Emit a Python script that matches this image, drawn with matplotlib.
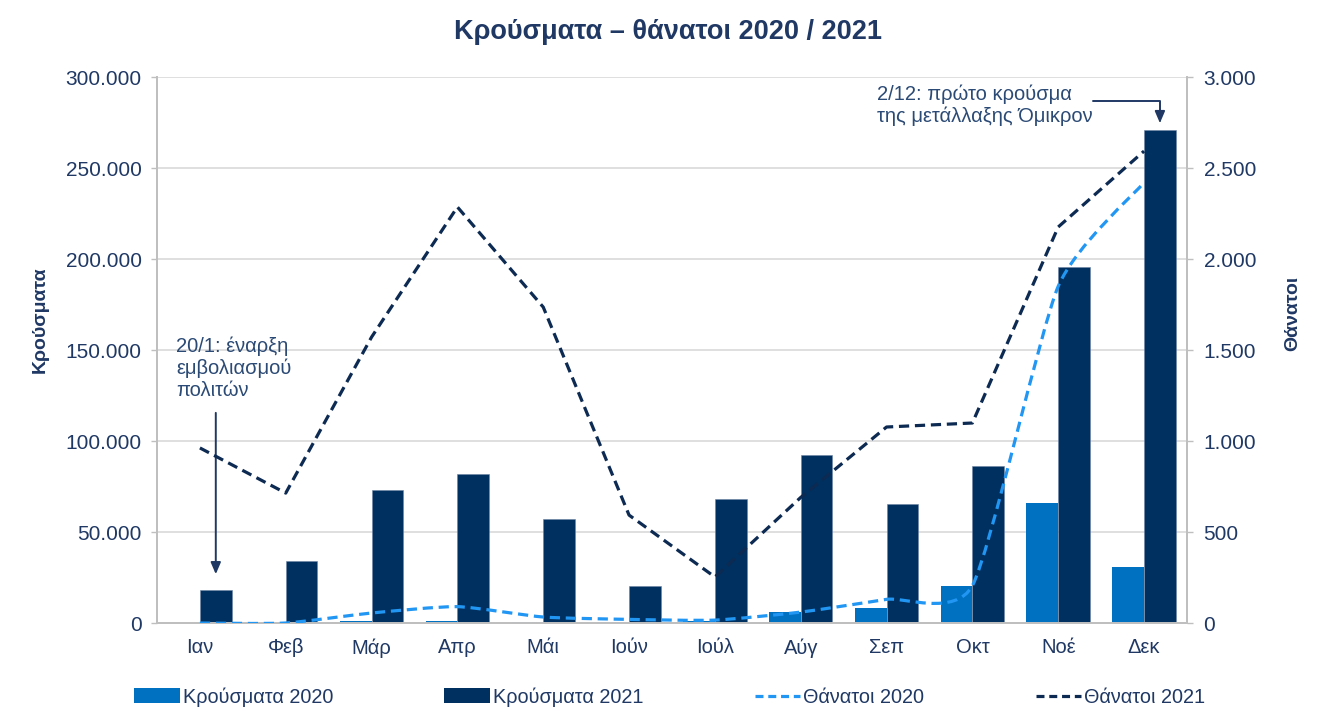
import numpy as np
import matplotlib
matplotlib.use("Agg")
import matplotlib.pyplot as plt
from matplotlib.path import Path
from matplotlib.patches import PathPatch, Patch
from matplotlib.lines import Line2D
from matplotlib.ticker import FuncFormatter

plt.rcParams["font.family"] = ["Liberation Sans", "DejaVu Sans"]

months = ["Ιαν", "Φεβ", "Μάρ", "Απρ", "Μάι", "Ιούν", "Ιούλ", "Αύγ", "Σεπ", "Οκτ", "Νοέ", "Δεκ"]
cases_2020 = [0, 0, 1300, 1300, 400, 500, 1000, 6000, 8200, 20300, 66000, 30800]
cases_2021 = [18100, 34100, 73000, 82000, 57000, 20300, 68100, 92300, 65400, 86300, 195600, 271000]
deaths_2020 = [0, 0, 55, 90, 33, 20, 16, 60, 130, 205, 1850, 2420]
deaths_2021 = [962, 714, 1571, 2286, 1736, 593, 253, 690, 1077, 1099, 2176, 2593]

TEXT = "#1f3864"
NAVY = "#00305f"
BLUE = "#0070c0"
LIGHT = "#2196f3"
DARKLINE = "#0c2a52"
GRID = "#d9d9d9"
SPINE = "#bfbfbf"


def thousands(v, _pos=None):
    return f"{v:,.0f}".replace(",", ".")


def smooth_path(xs, ys, k=0.1):
    # bezier through the points, similar to Excel's smoothed line
    pts = np.column_stack([xs, ys]).astype(float)
    n = len(pts)
    verts = [pts[0]]
    codes = [Path.MOVETO]
    for i in range(n - 1):
        p0 = pts[i - 1] if i > 0 else pts[i]
        p1, p2 = pts[i], pts[i + 1]
        p3 = pts[i + 2] if i + 2 < n else pts[i + 1]
        c1 = p1 + (p2 - p0) * k
        c2 = p2 - (p3 - p1) * k
        verts += [c1, c2, p2]
        codes += [Path.CURVE4] * 3
    return Path(verts, codes)


fig = plt.figure(figsize=(13.35, 7.2), dpi=100)
ax = fig.add_axes([0.1176, 0.1347, 0.7715, 0.7583])
ax2 = ax.twinx()

x = np.arange(len(months))
w = 0.37
ax.bar(x - w / 2, cases_2020, w, color=BLUE, zorder=2)
ax.bar(x + w / 2, cases_2021, w, color=NAVY, edgecolor="#6d84a3", linewidth=0.4, zorder=2)

ax.set_xlim(-0.5, len(months) - 0.5)
ax.set_ylim(0, 300000)
ax.set_yticks(np.arange(0, 300001, 50000))
ax.yaxis.set_major_formatter(FuncFormatter(thousands))
ax.set_xticks(x)
ax.set_xticklabels(months)
ax.grid(axis="y", color=GRID, linewidth=1.2, zorder=0)
ax.set_axisbelow(True)

dash = (0, (3.2, 1.8))
ax2.plot(x, deaths_2021, color=DARKLINE, linewidth=2.3, linestyle=dash, zorder=3)
ax2.add_patch(PathPatch(smooth_path(x, deaths_2020), fill=False, edgecolor=LIGHT,
                        linewidth=2.3, linestyle=dash, zorder=3))
ax2.set_ylim(0, 3000)
ax2.set_yticks(np.arange(0, 3001, 500))
ax2.yaxis.set_major_formatter(FuncFormatter(thousands))

for a in (ax, ax2):
    a.spines["top"].set_visible(False)
    for side in ("left", "right", "bottom"):
        a.spines[side].set_color(SPINE)
        a.spines[side].set_linewidth(1.3)
    a.tick_params(axis="y", colors=SPINE, labelcolor=TEXT, labelsize=15, length=4, width=1)
ax.tick_params(axis="y", pad=7)
ax2.tick_params(axis="y", pad=8)
ax.tick_params(axis="x", length=0, labelsize=14.5, labelcolor=TEXT, pad=11)

fig.text(0.5, 0.955, "Κρούσματα – θάνατοι 2020 / 2021", ha="center", va="center",
         fontsize=19.5, fontweight="bold", color=TEXT)
fig.text(40 / 1335, 1 - 320 / 720, "Κρούσματα", rotation=90, ha="center", va="center",
         fontsize=14, fontweight="bold", color=TEXT)
fig.text(1293 / 1335, 1 - 313 / 720, "Θάνατοι", rotation=90, ha="center", va="center",
         fontsize=14, fontweight="bold", color=TEXT)

# annotations
ax.text(-0.279, 140000, "20/1: έναρξη\nεμβολιασμού\nπολιτών", ha="left", va="center",
        fontsize=14.5, color="#2b4a75", linespacing=1.15)
ax.annotate("", xy=(w / 2, 25300), xytext=(w / 2, 117000),
            arrowprops=dict(arrowstyle="-|>,head_length=0.7,head_width=0.3", color=TEXT, lw=1.4))
ax.text(7.889, 284600, "2/12: πρώτο κρούσμα\nτης μετάλλαξης Όμικρον", ha="left", va="center",
        fontsize=14.5, color="#2b4a75", linespacing=1.15)
ax.annotate("", xy=(11 + w / 2, 274700), xytext=(10.405, 286800),
            arrowprops=dict(arrowstyle="-|>,head_length=0.7,head_width=0.3", color=TEXT, lw=1.4,
                            connectionstyle="angle,angleA=0,angleB=90,rad=0",
                            shrinkA=0, shrinkB=0))

handles = [
    Patch(facecolor=BLUE, label="Κρούσματα 2020"),
    Patch(facecolor=NAVY, label="Κρούσματα 2021"),
    Line2D([], [], color=LIGHT, linewidth=2.3, linestyle=(0, (2.5, 1.5)), label="Θάνατοι 2020"),
    Line2D([], [], color=DARKLINE, linewidth=2.3, linestyle=(0, (2.5, 1.5)), label="Θάνατοι 2021"),
]
leg = fig.legend(handles=handles, loc="center left", ncol=4, frameon=False,
                 bbox_to_anchor=(0.087, 1 - 697 / 720), fontsize=14.3, handlelength=2.3,
                 handleheight=0.8, handletextpad=0.15, columnspacing=5.6)
for t in leg.get_texts():
    t.set_color(TEXT)

fig.savefig("out.png", dpi=100)
